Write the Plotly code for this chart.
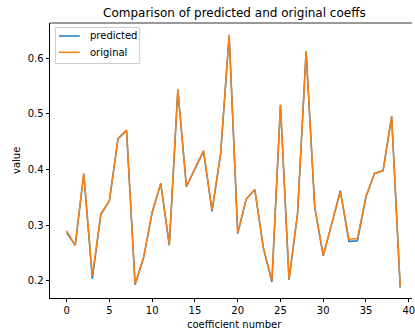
import plotly.graph_objects as go

coeff_index = list(range(40))
original = [0.290, 0.264, 0.393, 0.209, 0.321, 0.344, 0.456, 0.471, 0.194, 0.243,
            0.324, 0.375, 0.265, 0.544, 0.370, 0.402, 0.434, 0.327, 0.428, 0.642,
            0.287, 0.347, 0.364, 0.260, 0.201, 0.516, 0.203, 0.322, 0.612, 0.334,
            0.246, 0.303, 0.360, 0.275, 0.276, 0.352, 0.393, 0.398, 0.496, 0.190]
predicted = [0.287, 0.264, 0.392, 0.204, 0.319, 0.344, 0.455, 0.470, 0.193, 0.242,
             0.323, 0.375, 0.264, 0.543, 0.369, 0.402, 0.433, 0.325, 0.428, 0.641,
             0.285, 0.347, 0.364, 0.259, 0.198, 0.516, 0.202, 0.321, 0.612, 0.333,
             0.245, 0.303, 0.362, 0.271, 0.272, 0.351, 0.393, 0.398, 0.495, 0.188]
series_names = ["predicted", "original"]
series_colors = ["#1f77b4", "#ff7f0e"]
x_ticks = [0, 5, 10, 15, 20, 25, 30, 35, 40]
y_ticks = [0.2, 0.3, 0.4, 0.5, 0.6]

FONT = "DejaVu Sans"
W, H = 415, 336
ML, MR, MT, MB = 50, 0, 23, 38
PW, PH = W - ML - MR, H - MT - MB


def px(x):
    return (x - ML) / PW


def py(y):
    return 1 - (y - MT) / PH


fig = go.Figure()
for name, vals, col in zip(series_names, [predicted, original], series_colors):
    fig.add_trace(go.Scatter(x=coeff_index, y=vals, mode="lines", name=name,
                             showlegend=False, line=dict(color=col, width=1.5)))

# legend frame drawn as a trace on an overlay pixel-space axis pair
LX0, LX1, LY0, LY1 = 55.5, 140.5, 27.5, 63.5
fig.add_trace(go.Scatter(x=[LX0, LX1, LX1, LX0, LX0], y=[LY0, LY0, LY1, LY1, LY0],
                         mode="lines", xaxis="x2", yaxis="y2", showlegend=False,
                         hoverinfo="skip", line=dict(color="#cccccc", width=1)))

axis_common = dict(showgrid=False, zeroline=False, showline=True, linecolor="black",
                   linewidth=0.8, ticks="outside", ticklen=3.5, tickwidth=0.8,
                   tickcolor="black", ticklabeloverflow="allow",
                   tickfont=dict(family=FONT, size=10, color="black"))

shapes = [dict(type="line", xref="paper", yref="paper", x0=0, x1=1, y0=1, y1=1,
               line=dict(color="black", width=0.8))]
annotations = []
for i, (name, col) in enumerate(zip(series_names, series_colors)):
    yy = 36 + i * 16.3
    shapes.append(dict(type="line", xref="paper", yref="paper", x0=px(59), x1=px(80),
                       y0=py(yy), y1=py(yy), line=dict(color=col, width=1.5)))
    annotations.append(dict(text=name, xref="paper", yref="paper", x=px(88.5), y=py(yy),
                            xanchor="left", yanchor="middle", showarrow=False,
                            font=dict(family=FONT, size=10, color="black")))

annotations += [
    dict(text="Comparison of predicted and original coeffs", xref="paper", yref="paper",
         x=0.5087, y=1, xanchor="center", yanchor="bottom", yshift=1, showarrow=False,
         font=dict(family=FONT, size=12, color="black")),
    dict(text="coefficient number", xref="paper", yref="paper",
         x=0.5087, y=0, xanchor="center", yanchor="top", yshift=-19, showarrow=False,
         font=dict(family=FONT, size=10, color="black")),
    dict(text="value", xref="paper", yref="paper", textangle=-90,
         x=0, y=0.5, xanchor="right", yanchor="middle", xshift=-26, showarrow=False,
         font=dict(family=FONT, size=10, color="black")),
]

fig.update_layout(
    width=W, height=H,
    margin=dict(l=ML, r=MR, t=MT, b=MB),
    paper_bgcolor="white", plot_bgcolor="white",
    font=dict(family=FONT, size=10, color="black"),
    xaxis=dict(range=[-1.95, 40.38], tickvals=x_ticks, ticktext=[str(t) for t in x_ticks],
               **axis_common),
    yaxis=dict(range=[0.1694, 0.663], tickvals=y_ticks, ticktext=[f"{t:.1f}" for t in y_ticks],
               **axis_common),
    xaxis2=dict(overlaying="x", range=[ML, W], visible=False, fixedrange=True),
    yaxis2=dict(overlaying="y", range=[H - MB, MT], visible=False, fixedrange=True),
    showlegend=False,
    shapes=shapes,
    annotations=annotations,
)

fig.write_html("out.html", config={"displayModeBar": False},
               post_script="document.body.style.margin='0';document.body.style.overflow='hidden';")
